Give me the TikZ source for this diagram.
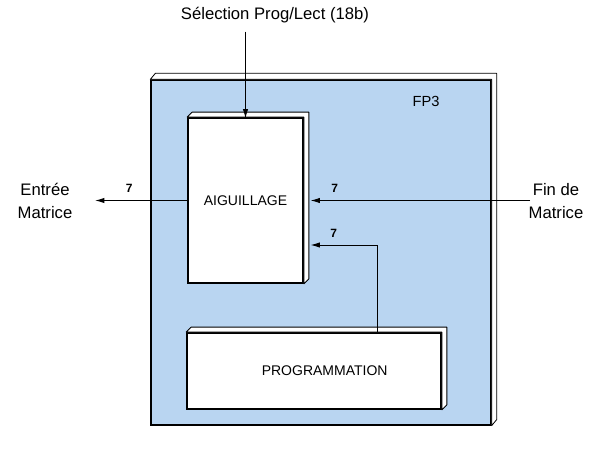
\documentclass[tikz,border=0pt]{standalone}
\usepackage{fontspec}
\setmainfont{Liberation Sans}
\usepackage{tikz}
\usetikzlibrary{arrows.meta, positioning, calc}

\definecolor{panelblue}{RGB}{185,213,241}

\begin{document}
\begin{tikzpicture}[
    x=0.75pt, y=-0.75pt,
    block/.style={rectangle, draw, line width=1.3pt, fill=white,
                  inner sep=0pt, font=\fontsize{10.5}{12}\selectfont},
    panel/.style={rectangle, draw, line width=1pt, fill=panelblue,
                  inner sep=0pt},
    bevel/.style={draw, fill=white, line width=0.6pt, line join=round},
    arr/.style={-{Latex[length=7pt,width=4pt]}, line width=0.7pt},
    lbl/.style={font=\fontsize{12.5}{17}\selectfont},
    num/.style={font=\small\bfseries}
]
\useasboundingbox (0,0) rectangle (594,450);

% panel FP3
\node[panel, minimum width=255pt, minimum height=258.75pt] (fp) at (321,252.5) {};
\draw[bevel] (fp.north west) -- ++(5,-6) -- ($(fp.north east)+(5,-6)$)
    -- ($(fp.south east)+(5,-6)$) -- (fp.south east) -- (fp.north east) -- cycle;
\node[font=\fontsize{11}{13}\selectfont] (fpname) at (426,101) {FP3};

% blocks
\node[block, minimum width=86.25pt, minimum height=123.75pt] (aig) at (245.5,200.5) {AIGUILLAGE};
\draw[bevel] (aig.north west) -- ++(5,-5) -- ($(aig.north east)+(5,-5)$)
    -- ($(aig.south east)+(5,-5)$) -- (aig.south east) -- (aig.north east) -- cycle;

\node[block, minimum width=190.5pt, minimum height=57pt] (prog) at (314,371) {\hspace*{16pt}PROGRAMMATION};
\draw[bevel] (prog.north west) -- ++(5,-5) -- ($(prog.north east)+(5,-5)$)
    -- ($(prog.south east)+(5,-5)$) -- (prog.south east) -- (prog.north east) -- cycle;

% outside labels
\node[lbl] (sel) at (275,15) {Sélection Prog/Lect (18b)};
\node[lbl, align=center] (entree) at (45,201) {Entrée\\Matrice};
\node[lbl, align=center] (fin) at (556,201) {Fin de\\Matrice};
\coordinate (outl) at (95,200.5);
\coordinate (inr) at (530,200.5);
\coordinate (bend) at (377,245);

% connectors
\draw[arr] (sel.south -| aig.north) ++(0,4) -- ([yshift=-1pt]aig.north);
\draw[arr] (aig.west) -- node[num, above=2pt, pos=0.63] {7} (outl);
\draw[arr] (inr) -- node[num, above=2pt, pos=0.89] {7} ([xshift=5pt]aig.east);
\draw[arr] (prog.north -| bend) -- (bend) -- node[num, above=2pt, pos=0.65] {7} ([xshift=5pt]aig.east |- bend);
\end{tikzpicture}
\end{document}
